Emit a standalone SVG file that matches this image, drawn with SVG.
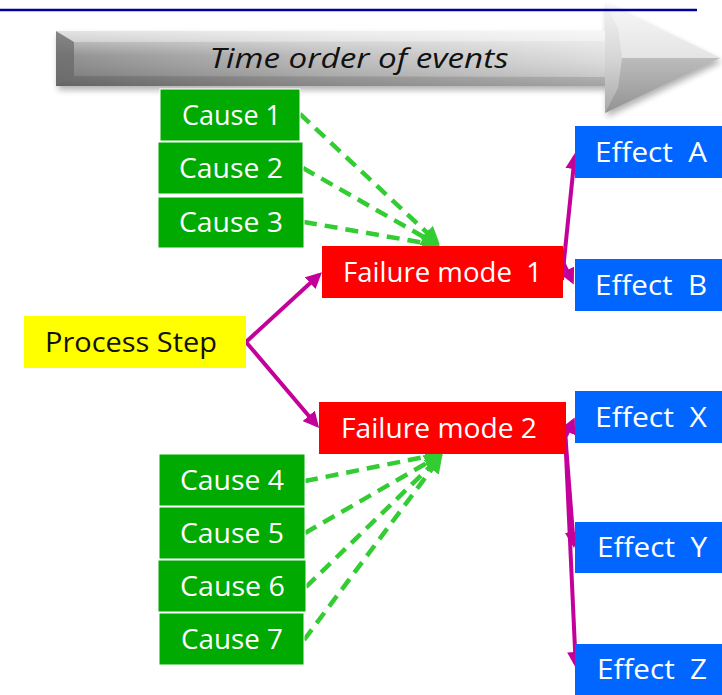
<svg xmlns="http://www.w3.org/2000/svg" width="722" height="695" viewBox="0 0 722 695">
<defs>
<style>
.box text{font-family:"Open Sans","Liberation Sans",sans-serif;font-size:27px;fill:#fff;}
.cause rect{fill:#00aa00;stroke:#fff;stroke-width:1;}
.fm rect{fill:#ff0000;}
.eff rect{fill:#0066ff;}
.mag{stroke:#c4009a;stroke-width:4;fill:none;marker-end:url(#mh);}
.grn{stroke:#33cc33;stroke-width:4.5;fill:none;stroke-dasharray:13 8;marker-end:url(#gh);}
</style>
<marker id="mh" viewBox="0 0 16 16" markerUnits="userSpaceOnUse" markerWidth="16" markerHeight="16" refX="12" refY="8" orient="auto">
<path d="M0,0 L16,8 L0,16 z" fill="#c4009a"/>
</marker>
<marker id="gh" viewBox="0 0 18 18" markerUnits="userSpaceOnUse" markerWidth="18" markerHeight="18" refX="14" refY="9" orient="auto">
<path d="M0,0 L18,9 L0,18 z" fill="#33cc33"/>
</marker>
<linearGradient id="bodyH" x1="0" y1="0" x2="1" y2="0">
<stop offset="0" stop-color="#858585"/>
<stop offset="0.5" stop-color="#b8b8b8"/>
<stop offset="1" stop-color="#dcdcdc"/>
</linearGradient>
<linearGradient id="bodyV" x1="0" y1="0" x2="0" y2="1">
<stop offset="0" stop-color="#fff" stop-opacity="0.65"/>
<stop offset="0.45" stop-color="#fff" stop-opacity="0.1"/>
<stop offset="1" stop-color="#000" stop-opacity="0.15"/>
</linearGradient>
<linearGradient id="headG" x1="0" y1="0" x2="0" y2="1">
<stop offset="0" stop-color="#f4f4f4"/>
<stop offset="0.5" stop-color="#d6d6d6"/>
<stop offset="1" stop-color="#a8a8a8"/>
</linearGradient>
<filter id="sh" x="-5%" y="-20%" width="110%" height="150%">
<feGaussianBlur stdDeviation="3"/>
</filter>
</defs>
<rect width="722" height="695" fill="#fff"/>
<g id="time-arrow">
<polygon points="58,35 607,35 607,7 722,62 607,117 607,90 58,90" fill="#000" opacity="0.3" filter="url(#sh)"/>
<rect x="56" y="31" width="550" height="55" fill="url(#bodyH)"/>
<rect x="56" y="31" width="550" height="55" fill="url(#bodyV)"/>
<polygon points="56,31 74,42 74,76 56,86" fill="#666" opacity="0.7"/>
<polygon points="56,31 606,31 606,41 74,42" fill="#fff" opacity="0.35"/>
<polygon points="56,86 606,86 606,77 74,76" fill="#000" opacity="0.12"/>
<polygon points="605,3 720,58 605,113" fill="url(#headG)"/>
<polygon points="605,3 720,58 622,58 618,28" fill="#fff" opacity="0.35"/>
<polygon points="605,113 720,58 622,58 618,88" fill="#000" opacity="0.12"/>
<text x="359" y="68" text-anchor="middle" font-family="'Open Sans','Liberation Sans',sans-serif" font-style="italic" font-size="27" fill="#111" textLength="299" lengthAdjust="spacingAndGlyphs">Time order of events</text>
</g>
<line x1="0" y1="10" x2="697" y2="10" stroke="#00009c" stroke-width="2.5"/>
<g id="connectors">
<line class="grn" x1="300" y1="114" x2="437" y2="242"/>
<line class="grn" x1="303" y1="168" x2="436" y2="244"/>
<line class="grn" x1="304" y1="222" x2="436" y2="245"/>
<line class="grn" x1="305" y1="481" x2="439" y2="454"/>
<line class="grn" x1="305" y1="533" x2="439" y2="456"/>
<line class="grn" x1="306" y1="587" x2="440" y2="457"/>
<line class="grn" x1="304" y1="640" x2="440" y2="458"/>
<line class="mag" x1="246" y1="342" x2="319" y2="275"/>
<line class="mag" x1="246" y1="342" x2="316.5" y2="425"/>
<line class="mag" x1="562" y1="280" x2="574.6" y2="157"/>
<line class="mag" x1="563" y1="262" x2="572" y2="281"/>
<line class="mag" x1="566" y1="436" x2="573" y2="421"/>
<line class="mag" x1="565" y1="432" x2="573.7" y2="544"/>
<line class="mag" x1="565" y1="432" x2="575.7" y2="664"/>
</g>
<g id="process-step" class="box">
<rect x="24" y="316" width="222" height="52" fill="#ffff00"/>
<text x="45" y="352" textLength="172" lengthAdjust="spacingAndGlyphs" style="fill:#111;font-size:28px">Process Step</text>
</g>
<g id="cause-1" class="box cause"><rect x="160" y="89" width="140" height="52"/><text x="182" y="125" textLength="99" lengthAdjust="spacingAndGlyphs">Cause 1</text></g>
<g id="cause-2" class="box cause"><rect x="158" y="142" width="145" height="52"/><text x="179" y="178" textLength="104" lengthAdjust="spacingAndGlyphs">Cause 2</text></g>
<g id="cause-3" class="box cause"><rect x="158" y="197" width="146" height="51"/><text x="179" y="232" textLength="104" lengthAdjust="spacingAndGlyphs">Cause 3</text></g>
<g id="cause-4" class="box cause"><rect x="159" y="454" width="146" height="52"/><text x="180" y="490" textLength="104" lengthAdjust="spacingAndGlyphs">Cause 4</text></g>
<g id="cause-5" class="box cause"><rect x="159" y="507" width="146" height="52"/><text x="180" y="543" textLength="104" lengthAdjust="spacingAndGlyphs">Cause 5</text></g>
<g id="cause-6" class="box cause"><rect x="158" y="560" width="148" height="52"/><text x="180" y="596" textLength="105" lengthAdjust="spacingAndGlyphs">Cause 6</text></g>
<g id="cause-7" class="box cause"><rect x="159" y="613" width="145" height="52"/><text x="181" y="649" textLength="102" lengthAdjust="spacingAndGlyphs">Cause 7</text></g>
<g id="failure-mode-1" class="box fm"><rect x="322" y="246" width="241" height="52"/><text x="343" y="282" textLength="199" lengthAdjust="spacingAndGlyphs" xml:space="preserve">Failure mode  1</text></g>
<g id="failure-mode-2" class="box fm"><rect x="319" y="402" width="247" height="52"/><text x="341" y="438" textLength="196" lengthAdjust="spacingAndGlyphs">Failure mode 2</text></g>
<g id="effect-a" class="box eff"><rect x="575" y="126" width="147" height="52"/><text x="595" y="162" textLength="112" lengthAdjust="spacingAndGlyphs" xml:space="preserve">Effect  A</text></g>
<g id="effect-b" class="box eff"><rect x="575" y="259" width="147" height="52"/><text x="595" y="295" textLength="112" lengthAdjust="spacingAndGlyphs" xml:space="preserve">Effect  B</text></g>
<g id="effect-x" class="box eff"><rect x="575" y="391" width="147" height="52"/><text x="595" y="427" textLength="112" lengthAdjust="spacingAndGlyphs" xml:space="preserve">Effect  X</text></g>
<g id="effect-y" class="box eff"><rect x="575" y="522" width="147" height="51"/><text x="597" y="557" textLength="110" lengthAdjust="spacingAndGlyphs" xml:space="preserve">Effect  Y</text></g>
<g id="effect-z" class="box eff"><rect x="575" y="644" width="147" height="51"/><text x="597" y="679" textLength="110" lengthAdjust="spacingAndGlyphs" xml:space="preserve">Effect  Z</text></g>
</svg>
